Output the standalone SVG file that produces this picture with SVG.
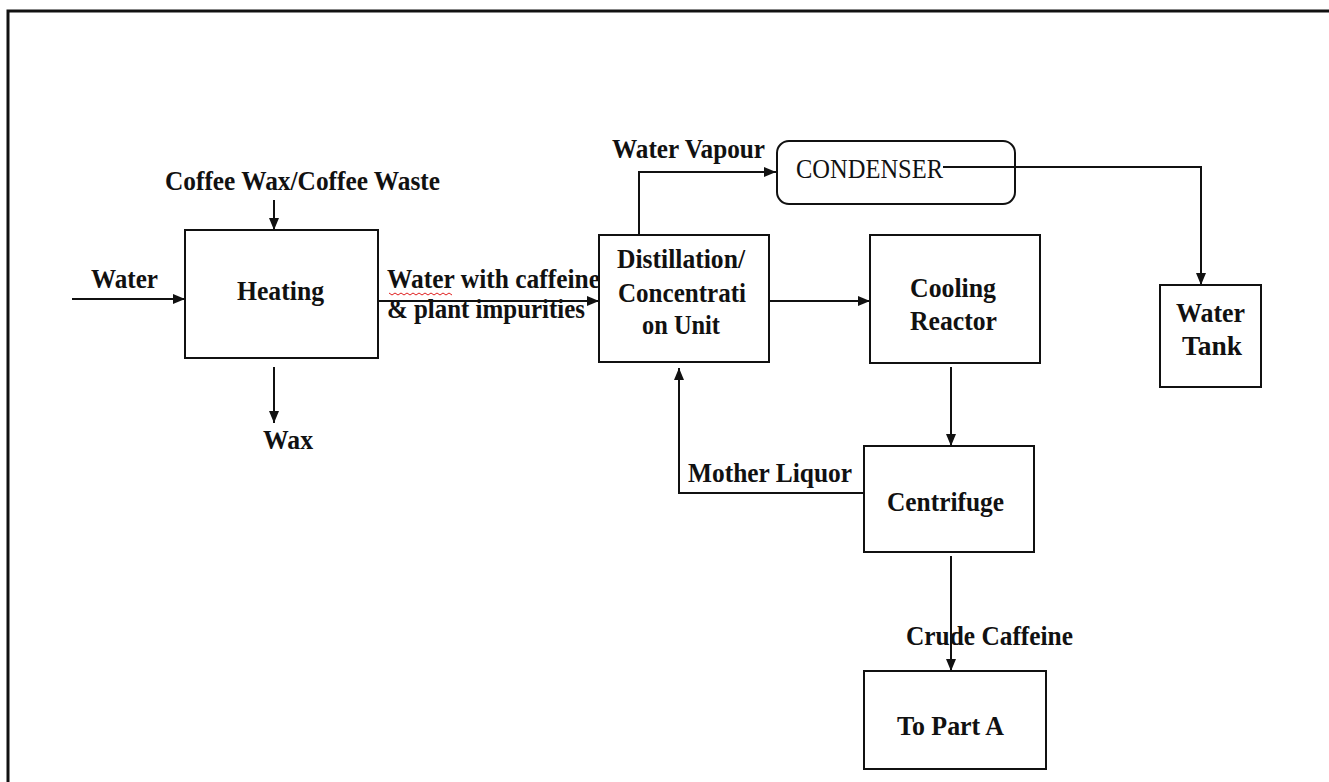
<svg xmlns="http://www.w3.org/2000/svg" width="1329" height="782" viewBox="0 0 1329 782">
<style>
.box{fill:#fff;stroke:#111;stroke-width:2}
.ln{fill:none;stroke:#111;stroke-width:2}
.t{font-family:"Liberation Serif","Times New Roman",serif;font-weight:bold;font-size:27px;fill:#111}
.r{font-family:"Liberation Serif","Times New Roman",serif;font-weight:normal;font-size:27px;fill:#111}
</style>
<defs>
<marker id="ah" markerUnits="userSpaceOnUse" markerWidth="12" markerHeight="10" refX="12" refY="5" orient="auto">
<path d="M0,0 L12,5 L0,10 z" fill="#111"/>
</marker>
</defs>
<rect width="1329" height="782" fill="#fff"/>
<g id="frame">
<path d="M8,782 L8,11 L1329,11" fill="none" stroke="#111" stroke-width="3"/>
</g>
<g id="connectors">
<path class="ln" d="M274,200 L274,230" marker-end="url(#ah)"/>
<path class="ln" d="M72,299 L185,299" stroke-width="3" marker-end="url(#ah)"/>
<path class="ln" d="M274,367 L274,423" marker-end="url(#ah)"/>
<path class="ln" d="M378,301 L599,301" marker-end="url(#ah)"/>
<path class="ln" d="M639,235 L639,172 L776,172" marker-end="url(#ah)"/>
<path class="ln" d="M943,167 L1201,167 L1201,285" marker-end="url(#ah)"/>
<path class="ln" d="M769,301 L870,301" stroke-width="3" marker-end="url(#ah)"/>
<path class="ln" d="M951,367 L951,446" marker-end="url(#ah)"/>
<path class="ln" d="M864,493 L679,493 L679,368" marker-end="url(#ah)"/>
<path class="ln" d="M951,556 L951,671" marker-end="url(#ah)"/>
</g>
<g id="labels">
<text class="t" x="165" y="190" textLength="275" lengthAdjust="spacingAndGlyphs">Coffee Wax/Coffee Waste</text>
<text class="t" x="91" y="288" textLength="67" lengthAdjust="spacingAndGlyphs">Water</text>
<text class="t" x="263" y="449" textLength="50" lengthAdjust="spacingAndGlyphs">Wax</text>
<text class="t" x="387" y="288" textLength="213" lengthAdjust="spacingAndGlyphs">Water with caffeine</text>
<path d="M389,293 l3,2 l3,-2 l3,2 l3,-2 l3,2 l3,-2 l3,2 l3,-2 l3,2 l3,-2 l3,2 l3,-2 l3,2 l3,-2 l3,2 l3,-2 l3,2 l3,-2 l3,2 l3,-2 l3,2" fill="none" stroke="#e02020" stroke-width="1"/>
<text class="t" x="387" y="318" textLength="198" lengthAdjust="spacingAndGlyphs">&amp; plant impurities</text>
<text class="t" x="612" y="158" textLength="153" lengthAdjust="spacingAndGlyphs">Water Vapour</text>
<text class="t" x="688" y="482" textLength="164" lengthAdjust="spacingAndGlyphs">Mother Liquor</text>
<text class="t" x="906" y="645" textLength="167" lengthAdjust="spacingAndGlyphs">Crude Caffeine</text>
</g>
<g id="heating">
<rect class="box" x="185" y="230" width="193" height="128"/>
<text class="t" x="237" y="300" textLength="87" lengthAdjust="spacingAndGlyphs">Heating</text>
</g>
<g id="distillation">
<rect class="box" x="599" y="235" width="170" height="127"/>
<text class="t" x="617" y="268" textLength="128" lengthAdjust="spacingAndGlyphs">Distillation/</text>
<text class="t" x="618" y="302" textLength="128" lengthAdjust="spacingAndGlyphs">Concentrati</text>
<text class="t" x="642" y="334" textLength="78" lengthAdjust="spacingAndGlyphs">on Unit</text>
</g>
<g id="condenser">
<rect class="box" x="777" y="141" width="238" height="63" rx="12" ry="12" style="fill:none"/>
<text class="r" x="796" y="178" textLength="147" lengthAdjust="spacingAndGlyphs">CONDENSER</text>
</g>
<g id="cooling">
<rect class="box" x="870" y="235" width="170" height="128"/>
<text class="t" x="910" y="297" textLength="86" lengthAdjust="spacingAndGlyphs">Cooling</text>
<text class="t" x="910" y="330" textLength="87" lengthAdjust="spacingAndGlyphs">Reactor</text>
</g>
<g id="watertank">
<rect class="box" x="1160" y="285" width="101" height="102"/>
<text class="t" x="1176" y="322" textLength="69" lengthAdjust="spacingAndGlyphs">Water</text>
<text class="t" x="1182" y="355" textLength="60" lengthAdjust="spacingAndGlyphs">Tank</text>
</g>
<g id="centrifuge">
<rect class="box" x="864" y="446" width="170" height="106"/>
<text class="t" x="887" y="511" textLength="117" lengthAdjust="spacingAndGlyphs">Centrifuge</text>
</g>
<g id="parta">
<rect class="box" x="864" y="671" width="182" height="98"/>
<text class="t" x="897" y="735" textLength="107" lengthAdjust="spacingAndGlyphs">To Part A</text>
</g>
</svg>
